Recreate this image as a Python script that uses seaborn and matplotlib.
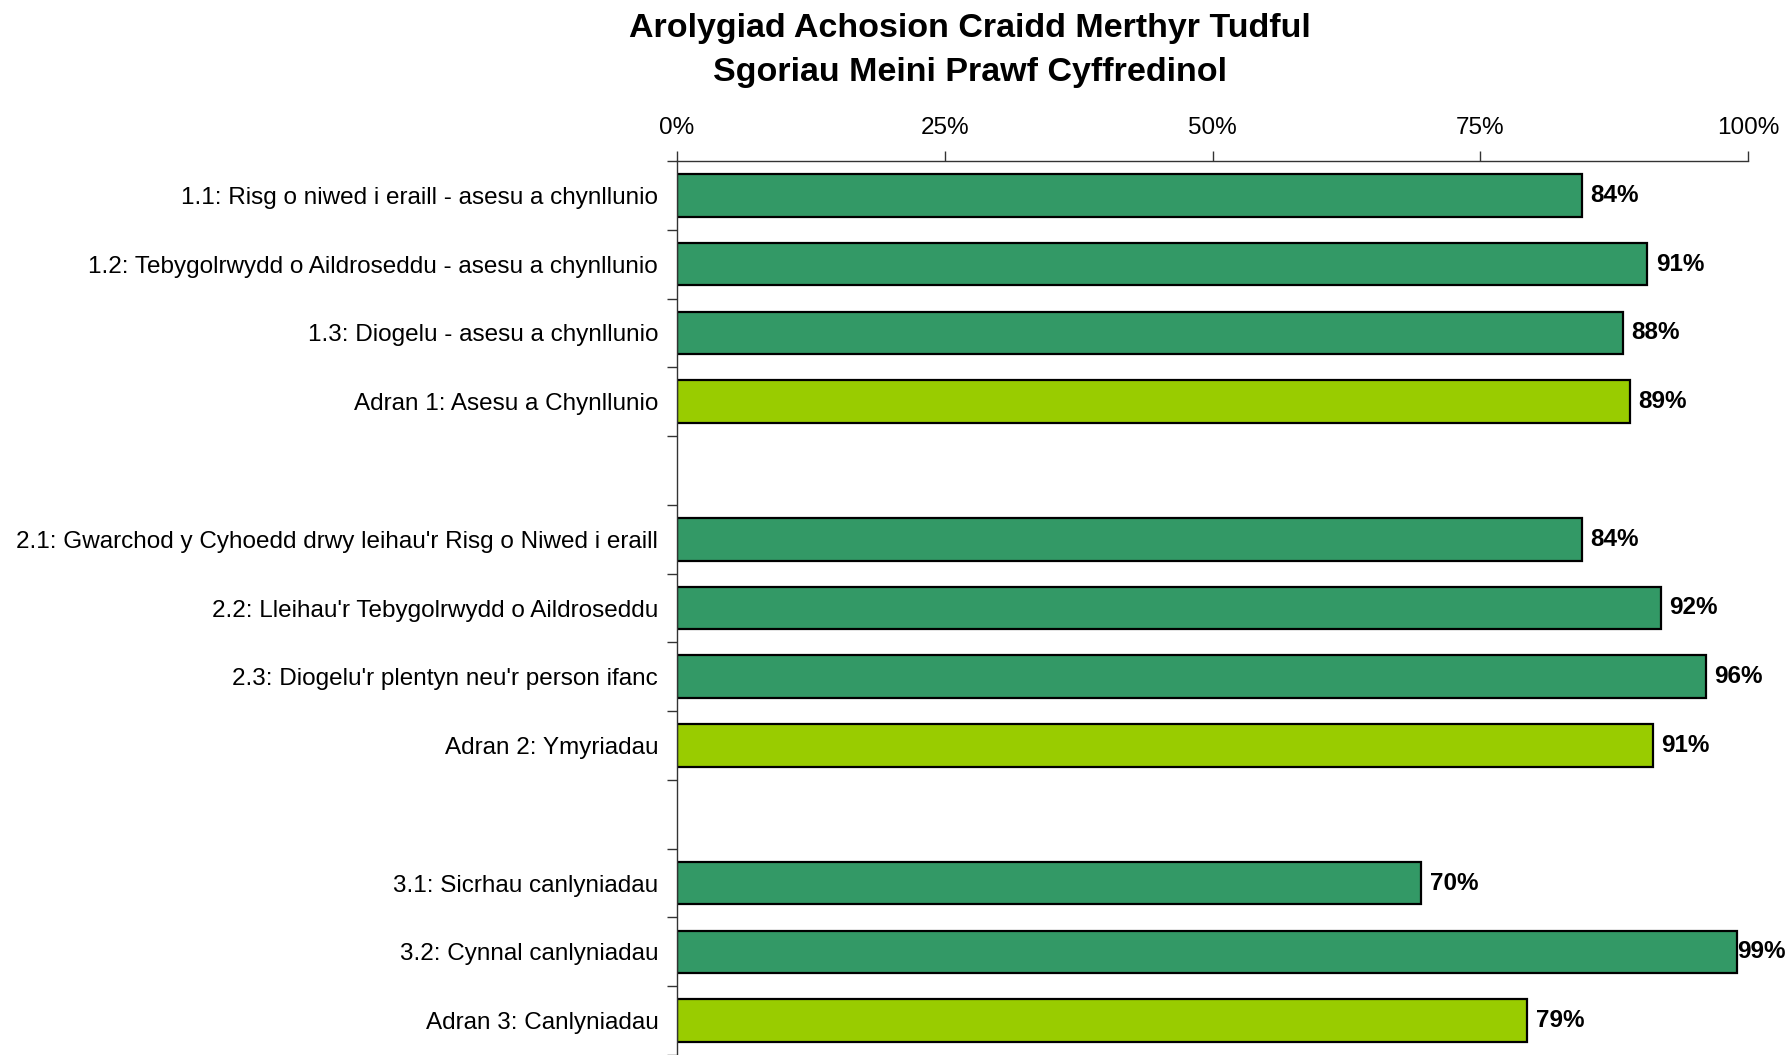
import matplotlib.pyplot as plt
import numpy as np
import pandas as pd
import seaborn as sns

# chart data
criteria = [
    "1.1: Risg o niwed i eraill - asesu a chynllunio",
    "1.2: Tebygolrwydd o Aildroseddu - asesu a chynllunio",
    "1.3: Diogelu - asesu a chynllunio",
    "Adran 1: Asesu a Chynllunio",
    "2.1: Gwarchod y Cyhoedd drwy leihau'r Risg o Niwed i eraill",
    "2.2: Lleihau'r Tebygolrwydd o Aildroseddu",
    "2.3: Diogelu'r plentyn neu'r person ifanc",
    "Adran 2: Ymyriadau",
    "3.1: Sicrhau canlyniadau",
    "3.2: Cynnal canlyniadau",
    "Adran 3: Canlyniadau",
]
scores = [84.5, 90.6, 88.3, 89.0, 84.5, 91.9, 96.1, 91.1, 69.5, 99.0, 79.4]
kinds = ["item", "item", "item", "section",
         "item", "item", "item", "section",
         "item", "item", "section"]
x_ticks = [0, 25, 50, 75, 100]

# empty slots between the three sections
order = criteria[0:4] + [" "] + criteria[4:8] + ["  "] + criteria[8:11]

df = pd.DataFrame({"criterion": criteria, "score": scores, "kind": kinds})

plt.rcParams["font.family"] = ["Liberation Sans", "DejaVu Sans"]

fig = plt.figure(figsize=(17.87, 10.55), dpi=100)
ax = fig.add_axes([677 / 1787, 0.0, (1748 - 677) / 1787, (1055 - 161) / 1055])

sns.barplot(data=df, y="criterion", x="score", hue="kind", order=order,
            palette={"item": "#339966", "section": "#99CC00"},
            saturation=1, dodge=False, legend=False, width=0.62,
            edgecolor="black", linewidth=1.6, ax=ax)

for bar_group in ax.containers:
    texts = ax.bar_label(bar_group, fmt="%.0f%%", padding=6, fontsize=17.5,
                         fontweight="bold", clip_on=False)
    # labels of near-full bars sit flush against the bar end, like Excel does
    for bar, t in zip(bar_group, texts):
        if bar.get_width() > 97:
            t.xyann = (0, 0)

ax.set_xlim(0, 100)
ax.set_ylim(len(order) - 0.5 - 0.07, -0.5)
ax.set_xticks(x_ticks)
ax.set_xticklabels([f"{t}%" for t in x_ticks])
ax.xaxis.tick_top()
ax.tick_params(axis="x", direction="out", length=7, width=1, pad=9,
               labelsize=17.5, color="#333333")
ax.tick_params(axis="y", which="major", length=0, pad=13.5, labelsize=17.5)
ax.set_yticks(np.arange(len(order) + 1) - 0.5, minor=True)
ax.tick_params(axis="y", which="minor", length=7, width=1, color="#333333")
ax.set_xlabel("")
ax.set_ylabel("")

for side in ["right", "bottom"]:
    ax.spines[side].set_visible(False)
for side in ["left", "top"]:
    ax.spines[side].set_color("#333333")
    ax.spines[side].set_linewidth(1)

fig.text(970 / 1787, 1 - 28 / 1055, "Arolygiad Achosion Craidd Merthyr Tudful",
         ha="center", va="center", fontsize=24.5, fontweight="bold")
fig.text(970 / 1787, 1 - 72 / 1055, "Sgoriau Meini Prawf Cyffredinol",
         ha="center", va="center", fontsize=24.5, fontweight="bold")

fig.savefig("out.png", dpi=100)
